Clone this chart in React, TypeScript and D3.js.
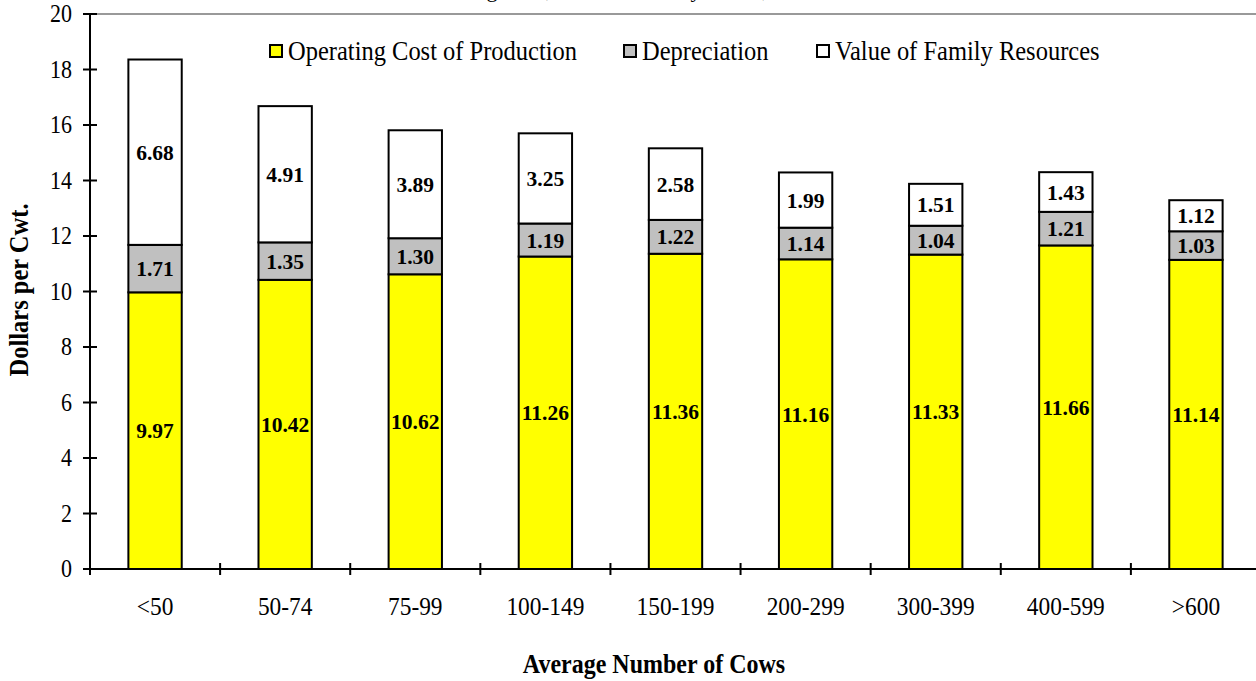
import React from "react";
import * as d3 from "d3";

const categories = ["<50", "50-74", "75-99", "100-149", "150-199", "200-299", "300-399", "400-599", ">600"];
const operating = [9.97, 10.42, 10.62, 11.26, 11.36, 11.16, 11.33, 11.66, 11.14];
const depreciation = [1.71, 1.35, 1.3, 1.19, 1.22, 1.14, 1.04, 1.21, 1.03];
const familyResources = [6.68, 4.91, 3.89, 3.25, 2.58, 1.99, 1.51, 1.43, 1.12];
const yTicks = [0, 2, 4, 6, 8, 10, 12, 14, 16, 18, 20];
const seriesNames = ["Operating Cost of Production", "Depreciation", "Value of Family Resources"];
const seriesColors = ["#ffff00", "#c0c0c0", "#ffffff"];

const W = 1256;
const H = 681;
const left = 90;
const top = 14;
const bottom = 569;
const right = 1261;
const STRETCH = 1.12;

export default function App() {
  const x = d3.scaleBand<string>().domain(categories).range([left, right]).paddingInner(0.59).paddingOuter(0.295);
  const xTickScale = d3.scaleLinear().domain([0, categories.length]).range([left, right]);
  const y = d3.scaleLinear().domain([0, 20]).range([bottom, top]);
  const rows = categories.map((c, i) => ({ c, vals: [operating[i], depreciation[i], familyResources[i]] }));
  const stack = d3.stack<any>().keys(["0", "1", "2"]).value((d: any, k: string) => d.vals[+k]);
  const stacked = stack(rows);
  const font = "'Liberation Serif', 'Times New Roman', serif";
  const legendX = [270, 624, 817];

  return (
    <svg width={W} height={H} style={{ position: "fixed", left: 0, top: 0, background: "#fff", fontFamily: font }}>
      <text x={817} y={-3} textAnchor="end" fontSize={22}>
        Costs of Producing Milk, New York Dairy Farms, 1999
      </text>
      <line x1={left} x2={W} y1={top} y2={top} stroke="#999" strokeWidth={2} />
      {stacked.map((s, si) =>
        s.map((d, i) => (
          <rect
            key={`${si}-${i}`}
            x={x(categories[i])}
            width={x.bandwidth()}
            y={y(d[1])}
            height={y(d[0]) - y(d[1])}
            fill={seriesColors[si]}
            stroke="#000"
            strokeWidth={2}
          />
        ))
      )}
      {stacked.map((s, si) =>
        s.map((d, i) => (
          <text
            key={`l-${si}-${i}`}
            x={(x(categories[i]) as number) + x.bandwidth() / 2}
            y={y((d[0] + d[1]) / 2)}
            dy="0.35em"
            textAnchor="middle"
            fontSize={21.5}
            fontWeight="bold"
          >
            {(d[1] - d[0]).toFixed(2)}
          </text>
        ))
      )}
      <line x1={left} x2={left} y1={top} y2={bottom} stroke="#000" strokeWidth={2} />
      <line x1={left} x2={W} y1={bottom} y2={bottom} stroke="#000" strokeWidth={2} />
      {yTicks.map((t) => (
        <g key={t}>
          <line x1={left - 7} x2={left + 7} y1={y(t)} y2={y(t)} stroke="#000" strokeWidth={2} />
          <g transform={`translate(${left - 18},${y(t) + 8}) scale(1,${STRETCH})`}>
            <text textAnchor="end" fontSize={22}>
              {t}
            </text>
          </g>
        </g>
      ))}
      {d3.range(categories.length + 1).map((i) => (
        <line key={i} x1={xTickScale(i)} x2={xTickScale(i)} y1={bottom - 6} y2={bottom + 6} stroke="#000" strokeWidth={2} />
      ))}
      {categories.map((c) => (
        <g key={c} transform={`translate(${(x(c) as number) + x.bandwidth() / 2},615) scale(1,${STRETCH})`}>
          <text textAnchor="middle" fontSize={23.4}>
            {c}
          </text>
        </g>
      ))}
      <g transform={`translate(654,673) scale(1,${STRETCH})`}>
        <text textAnchor="middle" fontSize={24} fontWeight="bold">
          Average Number of Cows
        </text>
      </g>
      <g transform={`translate(28,290) rotate(-90) scale(1,${STRETCH})`}>
        <text textAnchor="middle" fontSize={24.5} fontWeight="bold">
          Dollars per Cwt.
        </text>
      </g>
      {seriesNames.map((n, i) => (
        <g key={n}>
          <rect x={legendX[i]} y={45} width={12} height={12} fill={seriesColors[i]} stroke="#000" strokeWidth={2} />
          <g transform={`translate(${legendX[i] + 18},60) scale(1,${STRETCH})`}>
            <text fontSize={24.5}>{n}</text>
          </g>
        </g>
      ))}
    </svg>
  );
}
